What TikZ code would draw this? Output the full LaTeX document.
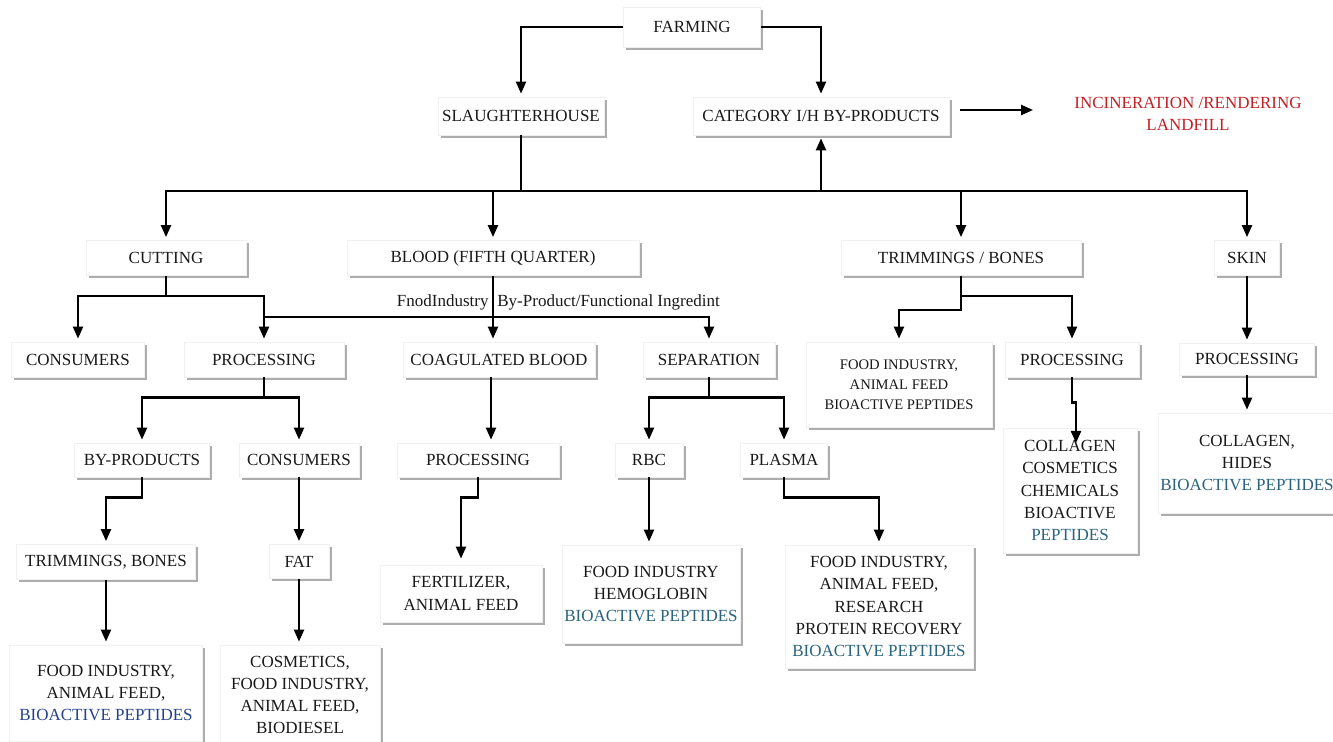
\documentclass[tikz,border=0pt]{standalone}
\usepackage{fontspec}
\setmainfont{Liberation Serif}
\usetikzlibrary{arrows.meta,shadows}
\definecolor{redt}{RGB}{192,32,38}
\definecolor{bluet}{RGB}{38,66,140}
\definecolor{tealt}{RGB}{42,100,125}
\definecolor{txt}{RGB}{25,25,25}
\begin{document}
\begin{tikzpicture}[x=0.5pt,y=-0.5pt,
  font=\fontsize{8.5}{11.1}\selectfont,
  box/.style={fill=white,draw=black!6,inner sep=0pt,align=center,text=txt,
    drop shadow={shadow xshift=1.4pt,shadow yshift=-1.4pt,fill=black,opacity=0.32}},
  arr/.style={-{Triangle[length=6pt,width=5pt]},line width=1.15pt,shorten >=1.5pt},
  ln/.style={line width=1.15pt}]
\fill[white] (0,0) rectangle (1333,742);
\useasboundingbox (0,0) rectangle (1333,742);
% level 0/1
\node[box,minimum width=68.5pt,minimum height=20pt] (farm) at (692,27) {FARMING};
\node[box,minimum width=83pt,minimum height=19pt] (slau) at (521,116) {SLAUGHTERHOUSE};
\node[box,minimum width=128pt,minimum height=19pt] (cat) at (821,116) {CATEGORY I/H BY-PRODUCTS};
\node[align=center,text=redt,inner sep=0pt] (incin) at (1188,114) {INCINERATION /RENDERING\\LANDFILL};
% level 2
\node[box,minimum width=80pt,minimum height=17.5pt] (cut) at (166,258) {CUTTING};
\node[box,minimum width=146pt,minimum height=17.5pt] (blood) at (493,258) {BLOOD (FIFTH QUARTER)};
\node[box,minimum width=120pt,minimum height=17.5pt] (trim) at (961,258) {TRIMMINGS / BONES};
\node[box,minimum width=32.5pt,minimum height=17.5pt] (skin) at (1247,258) {SKIN};
% level 3
\node[box,minimum width=66.5pt,minimum height=17.5pt] (cons1) at (78,359.5) {CONSUMERS};
\node[box,minimum width=80pt,minimum height=17.5pt] (proc1) at (264,359.5) {PROCESSING};
\node[box,minimum width=96pt,minimum height=17.5pt] (coag) at (499,359.5) {COAGULATED BLOOD};
\node[box,minimum width=66pt,minimum height=17.5pt] (sep) at (709,359.5) {SEPARATION};
\node[box,minimum width=93pt,minimum height=42.5pt,font=\fontsize{7.3}{10}\selectfont] (tfood) at (899,384.5) {FOOD INDUSTRY,\\ANIMAL FEED\\BIOACTIVE PEPTIDES};
\node[box,minimum width=67pt,minimum height=17.5pt] (tproc) at (1072,359.5) {PROCESSING};
\node[box,minimum width=67.5pt,minimum height=16pt] (sproc) at (1247,359) {PROCESSING};
% level 4
\node[box,minimum width=67.5pt,minimum height=17pt] (byp) at (142,460) {BY-PRODUCTS};
\node[box,minimum width=60pt,minimum height=17pt] (cons2) at (299,460) {CONSUMERS};
\node[box,minimum width=81pt,minimum height=17pt] (pb) at (478,460) {PROCESSING};
\node[box,minimum width=34pt,minimum height=17pt] (rbc) at (649,460) {RBC};
\node[box,minimum width=43.5pt,minimum height=17pt] (plasma) at (784,460) {PLASMA};
\node[box,minimum width=67pt,minimum height=62.5pt] (tcoll) at (1070,490.5) {COLLAGEN\\COSMETICS\\CHEMICALS\\BIOACTIVE\\\textcolor{tealt}{PEPTIDES}};
\node[box,minimum width=89pt,minimum height=50pt] (scoll) at (1247,463) {COLLAGEN,\\HIDES\\\textcolor{tealt}{BIOACTIVE PEPTIDES}};
\coordinate (tcollin) at (1076,443);
% level 5
\node[box,minimum width=89.5pt,minimum height=17.5pt] (tb) at (106,562) {TRIMMINGS, BONES};
\node[box,minimum width=30pt,minimum height=17pt] (fat) at (299,561.5) {FAT};
\node[box,minimum width=81pt,minimum height=28.5pt] (fert) at (461,593.5) {FERTILIZER,\\ANIMAL FEED};
\node[box,minimum width=89pt,minimum height=49pt] (hemo) at (651,594) {FOOD INDUSTRY\\HEMOGLOBIN\\\textcolor{tealt}{BIOACTIVE PEPTIDES}};
\node[box,minimum width=94pt,minimum height=61.5pt] (pfood) at (879,606.5) {FOOD INDUSTRY,\\ANIMAL FEED,\\RESEARCH\\PROTEIN RECOVERY\\\textcolor{tealt}{BIOACTIVE PEPTIDES}};
% level 6
\node[box,minimum width=96.5pt,minimum height=48pt] (lfood) at (106,693) {FOOD INDUSTRY,\\ANIMAL FEED,\\\textcolor{bluet}{BIOACTIVE PEPTIDES}};
\node[box,minimum width=80pt,minimum height=50pt] (cosm) at (300,695) {COSMETICS,\\FOOD INDUSTRY,\\ANIMAL FEED,\\BIODIESEL};
% label
\node[anchor=east,inner sep=0pt,text=txt] (lab1) at (489,302) {FnodIndustry};
\node[anchor=west,inner sep=0pt,text=txt] (lab2) at (497,302) {By-Product/Functional Ingredint};
% connectors top
\coordinate (bus) at (0,191);
\draw[arr] (farm.west) -| (slau.north);
\draw[arr] (farm.east) -| (cat.north);
\draw[arr,shorten >=0pt] ([xshift=5.5pt,yshift=3pt]cat.east) -- ([xshift=-20.5pt,yshift=2pt]incin.west);
\draw[ln] (slau.south) -- (slau.south |- bus);
\draw[arr] (slau.south |- bus) -| (cut.north);
\draw[arr] (slau.south |- bus) -| (blood.north);
\draw[arr] (slau.south |- bus) -| (trim.north);
\draw[arr] (slau.south |- bus) -| (skin.north);
\draw[arr] (cat.south |- bus) -- (cat.south);
% level 2 -> 3
\draw[arr] (cut.south) -- ++(0,20) -| (cons1.north);
\draw[arr] (cut.south) -- ++(0,20) -| (proc1.north);
\path (blood.south) ++(0,41) coordinate (bj);
\draw[ln] (bj -| proc1.north) -- (bj);
\draw[arr] (blood.south) -- (bj) -| (sep.north);
\draw[arr] (bj) -- (bj |- coag.north);
\draw[arr] (trim.south) -- ++(0,20) -| (tproc.north);
\draw[arr] (trim.south) -- ++(0,34) -| (tfood.north);
\draw[arr] (skin.south) -- (sproc.north);
% level 3 -> 4
\draw[arr] (proc1.south) -- ++(0,20) -| (byp.north);
\draw[arr] (proc1.south) -- ++(0,20) -| (cons2.north);
\draw[arr] ([xshift=-4pt]coag.south) -- ([xshift=-4pt]coag.south |- pb.north);
\draw[arr] (sep.south) -- ++(0,20) -| (rbc.north);
\draw[arr] (sep.south) -- ++(0,20) -| (plasma.north);
\draw[arr,shorten >=0pt] (tproc.south) -- ++(0,25) -- ++(4,0) -- (tcollin);
\draw[arr] (sproc.south) -- (scoll.north);
% level 4 -> 5
\draw[arr] (byp.south) -- ++(0,20) -| (tb.north);
\draw[arr] (cons2.south) -- (cons2.south |- fat.north);
\draw[arr,shorten >=3pt] (pb.south) -- ++(0,20) -| (fert.north);
\draw[arr] (rbc.south) -- (rbc.south |- hemo.north);
\draw[arr] (plasma.south) -- ++(0,20) -| (pfood.north);
% level 5 -> 6
\draw[arr] (tb.south) -- (lfood.north);
\draw[arr] (fat.south) -- (fat.south |- cosm.north);
\end{tikzpicture}
\end{document}
